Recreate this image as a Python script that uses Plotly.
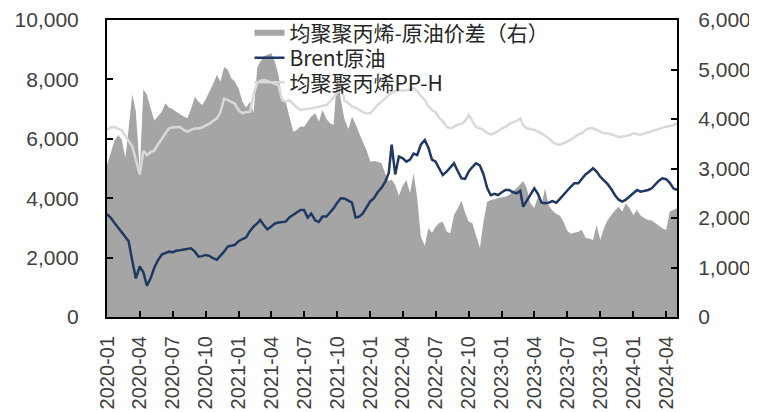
import pandas as pd
import plotly.graph_objects as go

# Sampling grid: 1st, 11th, 21st of each month, 2020-01-01 .. 2024-05-01 (157 points)
months = pd.date_range("2020-01-01", "2024-05-01", freq="MS")
dates = [m + pd.Timedelta(days=d) for m in months for d in (0, 10, 20)][:157]

# 均聚聚丙烯-原油价差（右）
spread = [
    3070, 3300, 3550,  3676, 3580, 3212,  3800, 4500, 4150,  2950, 4600, 4484,
    4216, 3970, 4050,  4147, 4317, 4230,  4200, 4147, 4100,  4050, 4013, 4200,
    4450, 4350, 4282,  4400, 4551, 4700,  4888, 4753, 5050,  5000, 4822, 4760,
    4600, 4350, 4230,  4349, 4120, 5040,  5150, 5258, 5300,  5327, 5150, 4888,
    4383, 4349, 4050,  3743, 3780, 3850,  3844, 3950, 4050,  4115, 3945, 4181,
    4000, 3913, 3878,  4923, 4383, 4000,  3800, 4046, 3900,  3711, 3541, 3373,
    3137, 3150, 3137,  3105, 2900, 2750,  2780, 2666, 2450,  2650, 2767, 2500,
    2903, 2400, 1622,  1440, 1792, 1700,  1824, 1900, 1925,  1720, 1691, 2060,
    2200, 2350, 2100,  1925, 1893, 1656,  1400, 1925, 2329,  2363, 2380, 2397,
    2420, 2430, 2464,  2550, 2600, 2680,  2750, 2600, 2300,  2200, 2430, 2262,
    2600, 2250, 2150,  2080, 2050, 1925,  1750, 1680, 1700,  1723, 1757, 1600,
    1580, 1555, 1858,  1555, 1792, 1950,  2060, 2150, 2228,  2127, 2296, 2200,
    2060, 2161, 2050,  1993, 1959, 1950,  1900, 1850, 1792,  1757, 2127, 2161,
    2195,
]

# Brent原油
brent = [
    3458, 3350, 3180,  3000, 2850, 2700,  2550, 1900, 1300,  1700, 1500, 1050,
    1300, 1650, 1900,  2100, 2150, 2200,  2180, 2230, 2245,  2260, 2290, 2310,
    2200, 2030, 2050,  2090, 2060, 1980,  1930, 2050, 2200,  2370, 2400, 2430,
    2560, 2620, 2680,  2900, 3050, 3150,  3266, 3100, 2950,  3050, 3150, 3180,
    3200, 3210, 3350,  3450, 3520, 3600,  3600, 3350, 3480,  3250, 3200, 3380,
    3380, 3520, 3660,  3850, 3996, 3990,  3930, 3850, 3350,  3380, 3490, 3700,
    3900, 4000, 4200,  4350, 4550, 4850,  5800, 4800, 5400,  5340, 5230, 5300,
    5500, 5450, 5800,  5960, 5700, 5300,  5230, 5000, 4780,  4900, 5050, 5175,
    4900, 4670, 4650,  4900, 5050, 5175,  5100, 4800, 4350,  4100, 4150, 4108,
    4200, 4276, 4276,  4200, 4165, 4250,  3714, 3900, 4100,  4333, 4150, 3850,
    3828, 3850, 3900,  3850, 3980, 4100,  4250, 4380, 4500,  4500, 4650, 4800,
    4900, 5007, 4900,  4724, 4600, 4480,  4300, 4100, 3950,  3883, 3950, 4060,
    4150, 4276, 4219,  4250, 4276, 4333,  4450, 4580, 4670,  4640, 4520, 4333,
    4276,
]

# 均聚聚丙烯PP-H
pph = [
    6300, 6380, 6400,  6350, 6280, 6100,  5950, 5750, 5300,  4800, 5600, 5450,
    5550, 5600, 5800,  6000, 6200, 6350,  6380, 6400, 6400,  6300, 6240, 6300,
    6350, 6350, 6380,  6450, 6500, 6600,  6690, 6900, 7350,  7300, 7250, 7180,
    6950, 6860, 6900,  6913, 7500, 7880,  7950, 7980, 7950,  7900, 7850, 7800,
    7300, 7250, 7300,  7150, 7050, 6970,  7000, 7000, 7027,  7050, 7081, 7100,
    7138, 7250, 7400,  7550, 7878, 7300,  7200, 7081, 7050,  6970, 6900, 6860,
    6860, 7000, 7138,  7250, 7350, 7475,  7550, 7600, 7643,  7620, 7640, 7650,
    7700, 7600, 7450,  7300, 7100, 6970,  6900, 6700, 6600,  6400, 6353, 6400,
    6480, 6500, 6600,  6801, 6600, 6400,  6353, 6300, 6200,  6150, 6185, 6250,
    6353, 6400, 6500,  6550, 6600, 6680,  6450, 6353, 6330,  6300, 6250, 6185,
    6100, 6017, 5900,  5820, 5800, 5850,  5900, 5960, 6050,  6150, 6185, 6300,
    6353, 6353, 6300,  6250, 6185, 6185,  6150, 6100, 6071,  6071, 6090, 6120,
    6185, 6150, 6128,  6180, 6220, 6240,  6280, 6330, 6380,  6408, 6430, 6460,
    6520,
]

names = ["均聚聚丙烯-原油价差（右）", "Brent原油", "均聚聚丙烯PP-H"]

fig = go.Figure()
fig.add_trace(go.Scatter(
    x=dates, y=spread, name=names[0], mode="none", fill="tozeroy",
    fillcolor="#A5A5A5", yaxis="y", legend="legend",
))
fig.add_trace(go.Scatter(
    x=dates, y=brent, name=names[1], mode="lines",
    line=dict(color="#1F3864", width=2.5), yaxis="y2", legend="legend2",
))
fig.add_trace(go.Scatter(
    x=dates, y=pph, name=names[2], mode="lines",
    line=dict(color="#D9D9D9", width=2.5), yaxis="y2", legend="legend3",
))

tick_font = dict(family="Liberation Sans, Noto Sans CJK SC", size=21, color="#404040")
xtick_font = dict(family="Liberation Sans, Noto Sans CJK SC", size=20, color="#404040")
leg_font = dict(family="Noto Sans CJK SC", size=21, color="#262626")


def leg(ypos):
    return dict(
        x=0.25, y=ypos, xanchor="left", yanchor="middle",
        bgcolor="rgba(0,0,0,0)", borderwidth=0, font=leg_font,
    )


# The page body adds an 8px offset, so the figure is 8px smaller than the window
fig.update_layout(
    width=749, height=404,
    margin=dict(l=99, r=80, t=12, b=95, autoexpand=False),
    paper_bgcolor="white", plot_bgcolor="white",
    showlegend=True,
    legend=leg(0.956),
    legend2=leg(0.872),
    legend3=leg(0.789),
    xaxis=dict(
        type="date", range=[dates[0], dates[-1]],
        tick0="2020-01-01", dtick="M3", tickformat="%Y-%m",
        tickangle=-90, ticks="inside", ticklen=6, tickcolor="black", tickwidth=1.5,
        showline=True, linecolor="black", linewidth=2, mirror=True,
        showgrid=False, zeroline=False, tickfont=xtick_font,
        automargin=False, ticklabelstandoff=9,
    ),
    yaxis=dict(
        side="right", range=[0, 6000], dtick=1000, tickformat=",",
        ticks="inside", ticklen=6, tickcolor="black", tickwidth=1.5,
        showline=True, linecolor="black", linewidth=2,
        showgrid=False, zeroline=False, tickfont=tick_font,
        automargin=False, ticklabelstandoff=15,
    ),
    yaxis2=dict(
        side="left", overlaying="y", range=[0, 10000], dtick=2000, tickformat=",",
        ticks="inside", ticklen=6, tickcolor="black", tickwidth=1.5,
        showline=True, linecolor="black", linewidth=2,
        showgrid=False, zeroline=False, tickfont=tick_font,
        automargin=False, ticklabelstandoff=22,
    ),
)

fig.write_html("out.html")
